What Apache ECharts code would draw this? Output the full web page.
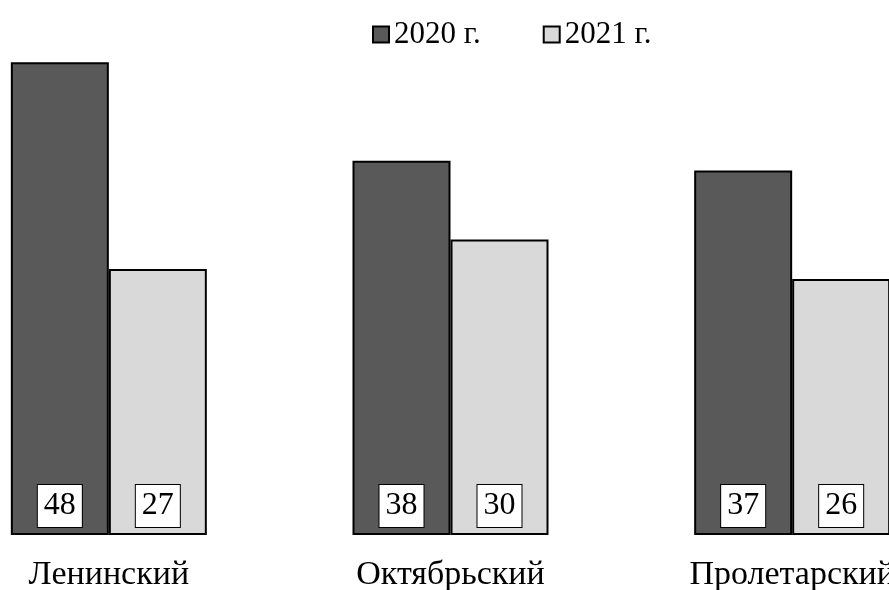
<!DOCTYPE html>
<html><head><meta charset="utf-8">
<script src="https://cdn.jsdelivr.net/npm/echarts@6/dist/echarts.min.js"></script>
<style>html,body{margin:0;padding:0;background:#fff}#c{width:889px;height:590px}</style>
</head><body><div id="c"></div>
<script>
const categories = ['Ленинский', 'Октябрьский', 'Пролетарский'];
const seriesNames = ['2020 г.', '2021 г.'];
const values2020 = [48, 38, 37];
const values2021 = [27, 30, 26];

const FONT = '"Liberation Serif", "Times New Roman", serif';
const chart = echarts.init(document.getElementById('c'), null, {renderer: 'canvas'});
const labelStyle = {
  show: true, position: 'insideBottom', distance: 8,
  backgroundColor: '#fff', borderColor: '#000', borderWidth: 1,
  padding: [5, 6, 5, 6], fontSize: 32, lineHeight: 32,
  fontFamily: FONT, color: '#000'
};
chart.setOption({
  animation: false,
  backgroundColor: '#fff',
  legend: {
    top: 14, left: 367, itemWidth: 16, itemHeight: 16, itemGap: 62,
    icon: 'rect',
    textStyle: {fontSize: 31, fontFamily: FONT, color: '#000'},
    data: seriesNames
  },
  grid: {left: -62, width: 1025, top: 42.5, bottom: 55, outerBoundsMode: 'none', containLabel: false},
  xAxis: {
    type: 'category', data: categories,
    axisLine: {show: false}, axisTick: {show: false},
    axisLabel: {fontSize: 34, fontFamily: FONT, color: '#000', margin: 23}
  },
  yAxis: {type: 'value', min: 0, max: 50, show: false, splitLine: {show: false}},
  series: [
    {name: seriesNames[0], type: 'bar', data: values2020, barWidth: 98, barGap: 0,
     itemStyle: {color: '#595959', borderColor: '#000', borderWidth: 2},
     label: labelStyle},
    {name: seriesNames[1], type: 'bar', data: values2021, barWidth: 98, barGap: 0,
     itemStyle: {color: '#d9d9d9', borderColor: '#000', borderWidth: 2},
     label: labelStyle}
  ]
});
</script></body></html>
